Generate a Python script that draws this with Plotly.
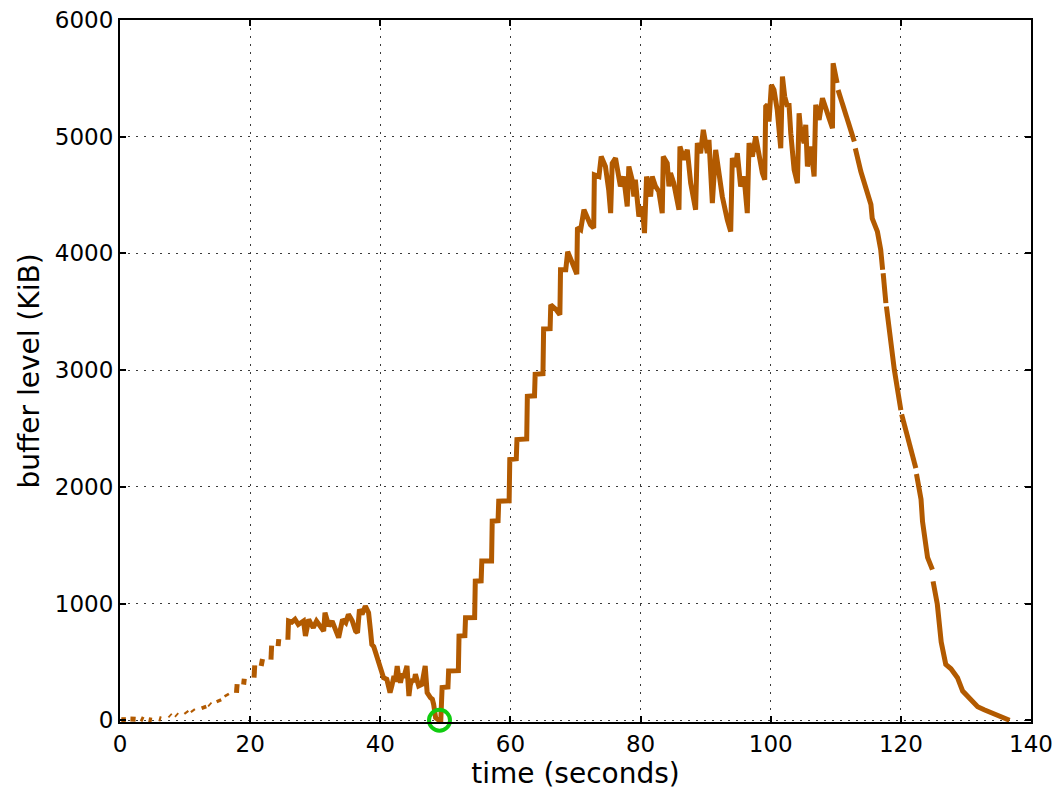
import plotly.graph_objects as go

# ---- data (time in seconds, buffer level in KiB); None marks a gap in the trace ----
startup_time = [0.2, 0.9, None, 1.6, 2.4, None, 3.2, 3.6, None, 4.4, 4.9, None,
                6.0, 6.3, None, 7.6, 7.8, None, 8.6, 8.8, None, 10.1, 10.3, None,
                11.1, 11.3, None, 12.8, 13.0, None, 13.7, 13.9, None, 15.1, 15.3, None,
                16.3, 16.5, None, 17.9, 18.0, None, 19.0, 19.1, None, 20.6, 20.7, None,
                21.7, 21.9, None, 23.2, 23.3, None, 24.3, 24.4, None]
startup_buffer = [5, 5, None, 10, 8, None, 15, 5, None, 5, 0, None,
                  15, 10, None, 45, 35, None, 50, 40, None, 75, 60, None,
                  90, 75, None, 125, 95, None, 140, 130, None, 180, 155, None,
                  225, 205, None, 235, 310, None, 305, 355, None, 365, 470, None,
                  465, 525, None, 520, 640, None, 635, 695, None]

plateau_time = [25.8, 25.9, 26.4, 26.9, 27.4, 27.8, 28.2, 28.5, 28.7, 29.0, 29.4, 29.7,
                30.2, 30.5, 30.8, 31.3, 31.5, 31.8, 32.1, 32.6, 32.9, 33.2, 33.6, 33.8,
                34.2, 34.7, 35.1, 35.4, 35.7, 36.2, 36.5, 36.8, 37.2, 37.7, 38.0, 38.2,
                38.5, 38.7, 39.0, 39.2, 39.5, 39.8, 40.0, 40.5, 41.0, 41.3, 41.5, 41.8,
                42.1, 42.3, 42.6, 42.8, 43.1, 43.4, 43.6, 44.1, 44.4, 44.6, 44.9, 45.2,
                45.4, 45.9, 46.4, 46.9, 47.2, 47.7, 48.0, 48.2, 48.5, 49.0, 49.3]
plateau_buffer = [690, 850, 840, 865, 820, 835, 850, 722, 800, 864, 820, 793,
                  850, 830, 807, 765, 921, 850, 807, 850, 800, 765, 708, 760,
                  864, 836, 907, 880, 850, 765, 750, 950, 907, 978, 950, 921,
                  765, 650, 630, 593, 536, 470, 422, 365, 351, 300, 237, 300,
                  379, 330, 465, 380, 322, 400, 365, 465, 208, 300, 351, 330,
                  394, 294, 308, 465, 237, 194, 180, 137, 23, 0, 0]

refill_time = [49.5, 50.4, 50.5, 52.0, 52.1, 53.0, 53.1, 54.5, 54.6, 55.5, 55.6, 57.1,
               57.2, 58.1, 58.2, 59.8, 59.9, 60.9, 61.0, 62.5, 62.6, 63.7, 63.8, 65.0,
               65.1, 66.1, 66.2, 67.0, 67.6, 67.7, 68.5, 68.8, 69.5, 70.2, 70.3, 70.8,
               71.3, 71.8, 72.3, 72.8, 72.9, 73.6, 73.95, 74.6, 75.1, 75.4, 75.64, 76.15,
               76.4, 76.9, 77.4, 77.95, 78.2, 78.7, 78.97, 79.2, 79.74, 80.26]
refill_buffer = [280, 285, 422, 425, 722, 725, 879, 880, 1192, 1195, 1364, 1365,
                 1706, 1710, 1877, 1880, 2234, 2240, 2405, 2410, 2776, 2780, 2965, 2970,
                 3353, 3355, 3560, 3520, 3475, 3860, 3860, 4014, 3920, 3822, 4222, 4203,
                 4374, 4303, 4245, 4217, 4673, 4659, 4830, 4745, 4545, 4345, 4773, 4816,
                 4745, 4574, 4659, 4402, 4745, 4631, 4488, 4631, 4317, 4402]

steady_time = [80.6, 80.92, 81.54, 81.79, 82.3, 82.8, 83.33, 83.49, 84.1, 84.36, 84.6, 85.1,
               85.9, 86.05, 86.67, 87.18, 87.7, 88.46, 88.72, 89.23, 89.64, 90.26, 90.51, 90.77,
               91.03, 91.54, 92.05, 92.56, 93.33, 93.85, 94.1, 94.6, 94.87, 95.38, 95.9, 96.4,
               96.67, 97.18, 97.69, 98.2, 98.72, 99.08, 99.23, 99.49, 99.74, 100.1, 100.5, 101.0,
               101.54, 101.8, 102.15, 102.56, 102.8, 103.08, 103.6, 104.1, 104.36, 104.6, 105.13, 105.38,
               105.64, 106.15, 106.67, 106.92, 107.44, 107.95, 108.46, 108.97, 109.49, 109.59, 110.2, None]
steady_buffer = [4174, 4659, 4488, 4659, 4574, 4531, 4345, 4830, 4773, 4574, 4688, 4602,
                 4374, 4916, 4802, 4888, 4602, 4374, 4945, 4859, 5059, 4859, 4973, 4631,
                 4431, 4888, 4688, 4488, 4288, 4188, 4816, 4745, 4859, 4574, 4659, 4345,
                 4945, 4830, 5002, 4830, 4688, 4631, 5259, 5273, 5130, 5444, 5401, 5230,
                 4902, 5516, 5344, 5259, 5287, 5030, 4716, 4602, 5201, 5059, 4945, 5102,
                 4745, 4916, 4659, 5273, 5144, 5330, 5259, 5159, 5073, 5629, 5460, None]

drain_time = [110.35, 112.85, None, 113.0, 113.85, 115.4, 115.6, 116.4, 116.9, 117.2, None,
              117.28, 117.7, None, 117.78, 119.0, 120.0, None, 120.12, 122.3, None,
              122.4, 123.1, 123.33, 123.6, 124.1, 124.85, None, 124.95, 125.6, 126.2,
              126.9, 127.7, 128.7, 129.5, 130.5, 131.8, 132.8, 134.1, 135.4, 136.7]
drain_buffer = [5400, 4960, None, 4900, 4702, 4420, 4300, 4186, 4033, 3861, None,
                3830, 3574, None, 3545, 3001, 2658, None, 2620, 2160, None,
                2110, 1893, 1702, 1568, 1396, 1290, None, 1190, 995, 670,
                479, 441, 365, 250, 193, 116, 90, 59, 21, 0]

stall_time = [49.1]
stall_buffer = [0]

x_ticks = [0, 20, 40, 60, 80, 100, 120, 140]
y_ticks = [0, 1000, 2000, 3000, 4000, 5000, 6000]

time = startup_time + plateau_time + refill_time + steady_time + drain_time
buffer = startup_buffer + plateau_buffer + refill_buffer + steady_buffer + drain_buffer

FONT = "DejaVu Sans"
LINE = "#b25a00"

fig = go.Figure()
fig.add_trace(go.Scatter(
    x=time, y=buffer, mode="lines", connectgaps=False,
    line=dict(color=LINE, width=5), hoverinfo="skip", showlegend=False))
fig.add_trace(go.Scatter(
    x=stall_time, y=stall_buffer, mode="markers", cliponaxis=False,
    marker=dict(symbol="circle-open", size=21, color="#10cc10",
                line=dict(color="#10cc10", width=4)),
    hoverinfo="skip", showlegend=False))

axis_common = dict(
    showline=True, linecolor="black", linewidth=2, mirror="ticks",
    ticks="inside", ticklen=6, tickwidth=1.5, tickcolor="black",
    showgrid=True, gridcolor="#3a3a3a", gridwidth=1.3, griddash="2px,6px",
    zeroline=False, tickfont=dict(family=FONT, size=23, color="black"),
)

fig.update_xaxes(range=[0, 140], tickvals=x_ticks, ticktext=[str(v) for v in x_ticks],
                 title=dict(text="time (seconds)", font=dict(family=FONT, size=28, color="black"),
                            standoff=5),
                 **axis_common)
fig.update_yaxes(range=[-15, 6000], tickvals=y_ticks, ticktext=[str(v) for v in y_ticks],
                 title=dict(text="buffer level (KiB)", font=dict(family=FONT, size=28, color="black"),
                            standoff=7),
                 **axis_common)

fig.update_layout(
    width=1059, height=790,
    margin=dict(l=120, r=28, t=20, b=68, autoexpand=False),
    plot_bgcolor="white", paper_bgcolor="white",
    font=dict(family=FONT, color="black"),
)

fig.write_html("out.html", config={"displayModeBar": False},
               post_script="document.body.style.margin='0';document.body.style.overflow='hidden';")
